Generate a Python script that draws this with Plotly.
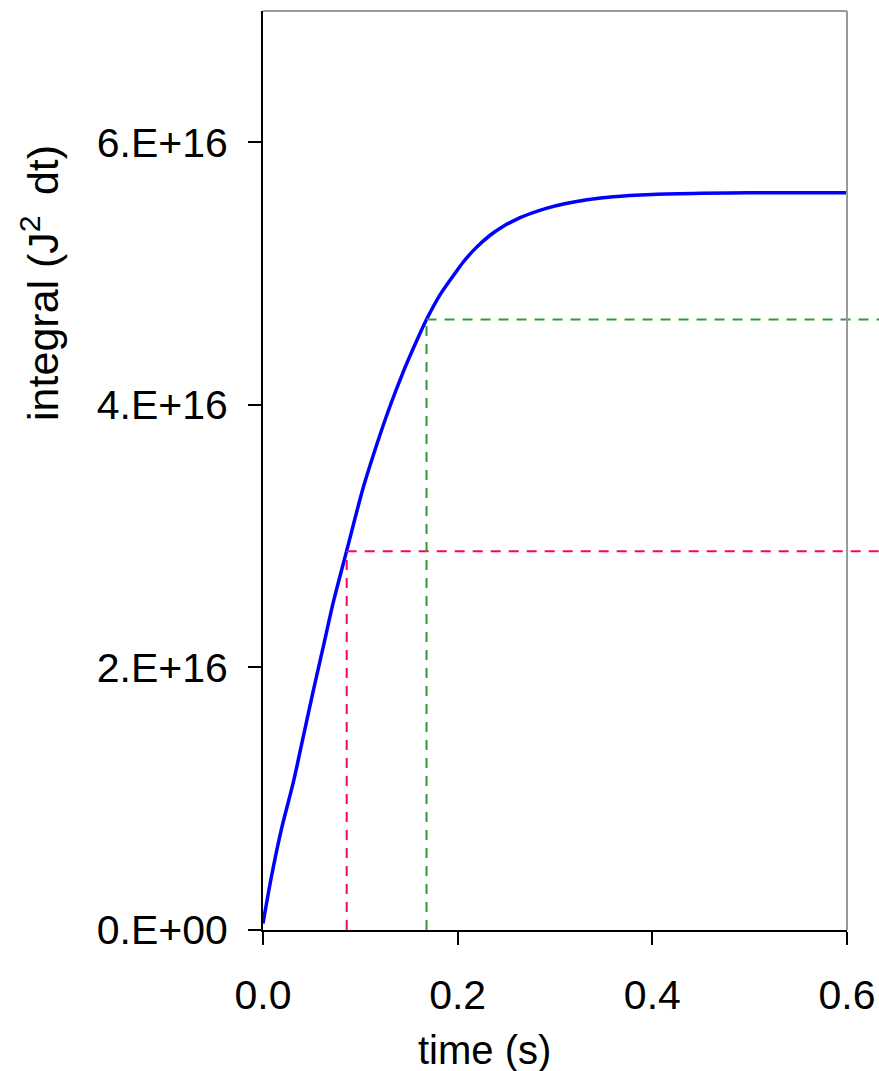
import plotly.graph_objects as go

# data
time_s = [0.0, 0.0085, 0.019, 0.031, 0.041, 0.051, 0.062, 0.072, 0.086, 0.103,
          0.117, 0.130, 0.144, 0.158, 0.168, 0.182, 0.199, 0.206, 0.218, 0.233,
          0.247, 0.261, 0.276, 0.291, 0.31, 0.333, 0.36, 0.40, 0.45, 0.50, 0.60]
integral_e16 = [0.05, 0.40, 0.77, 1.12, 1.46, 1.80, 2.16, 2.49, 2.89, 3.37,
                3.70, 3.98, 4.25, 4.49, 4.65, 4.84, 5.02, 5.09, 5.19, 5.29,
                5.36, 5.415, 5.46, 5.497, 5.532, 5.562, 5.586, 5.603, 5.612,
                5.615, 5.615]
integral = [v * 1e16 for v in integral_e16]

marker_times = [0.086, 0.168]
marker_values = [2.885e16, 4.65e16]
marker_colors = ["#FF0066", "#339933"]

x_ticks = [0.0, 0.2, 0.4, 0.6]
y_ticks = [0, 2e16, 4e16, 6e16]
y_ticktext = ["0.E+00", "2.E+16", "4.E+16", "6.E+16"]

X_MAX = 0.6
Y_MAX = 7e16

FONT = "Arial, 'Liberation Sans', sans-serif"
TICK_SIZE = 41
TITLE_SIZE = 40

fig = go.Figure()
fig.add_trace(go.Scatter(x=time_s, y=integral, mode="lines",
                         line=dict(color="#0000FF", width=3.5, shape="spline",
                                   smoothing=0.8),
                         showlegend=False))

shapes = []
for t, v, c in zip(marker_times, marker_values, marker_colors):
    # vertical dashed line from axis to curve
    shapes.append(dict(type="line", xref="x", yref="y", x0=t, x1=t, y0=0, y1=v,
                       line=dict(color=c, width=2, dash="10px,8px"), layer="above"))
    # horizontal dashed line from curve to the right edge of the image
    shapes.append(dict(type="line", xref="paper", yref="y", x0=t / X_MAX, x1=1.06,
                       y0=v, y1=v, line=dict(color=c, width=2, dash="10px,8px"),
                       layer="above"))

# gray top and right border
shapes.append(dict(type="line", xref="paper", yref="paper", x0=0, x1=1, y0=1, y1=1,
                   line=dict(color="#999999", width=2)))
shapes.append(dict(type="line", xref="paper", yref="paper", x0=1, x1=1, y0=0, y1=1,
                   line=dict(color="#999999", width=2)))

fig.update_layout(
    width=879, height=1071,
    margin=dict(l=263, r=32, t=11, b=141),
    paper_bgcolor="white", plot_bgcolor="white",
    font=dict(family=FONT, size=TICK_SIZE, color="black"),
    shapes=shapes,
    xaxis=dict(range=[0, X_MAX], tickvals=x_ticks, tickformat=".1f",
               showgrid=False, zeroline=False, showline=True, linecolor="black",
               linewidth=2, ticks="outside", ticklen=13, tickwidth=2,
               tickcolor="black", ticklabelstandoff=15, automargin=False,
               tickfont=dict(family=FONT, size=TICK_SIZE, color="black")),
    yaxis=dict(range=[0, Y_MAX], tickvals=y_ticks, ticktext=y_ticktext,
               showgrid=False, zeroline=False, showline=True, linecolor="black",
               linewidth=2, ticks="outside", ticklen=13, tickwidth=2,
               tickcolor="black", ticklabelstandoff=12, automargin=False,
               tickfont=dict(family=FONT, size=TICK_SIZE, color="black")),
    annotations=[
        dict(text="time (s)", xref="paper", yref="paper", x=0.379, y=-0.1306,
             xanchor="center", yanchor="middle", showarrow=False,
             font=dict(family=FONT, size=TITLE_SIZE, color="black")),
        dict(text="integral (J<sup>2 </sup> dt)", xref="paper", yref="paper",
             x=-0.382, y=0.704, xanchor="center", yanchor="middle",
             textangle=-90, showarrow=False,
             font=dict(family=FONT, size=43, color="black")),
    ],
)

fig.write_html("out.html")
